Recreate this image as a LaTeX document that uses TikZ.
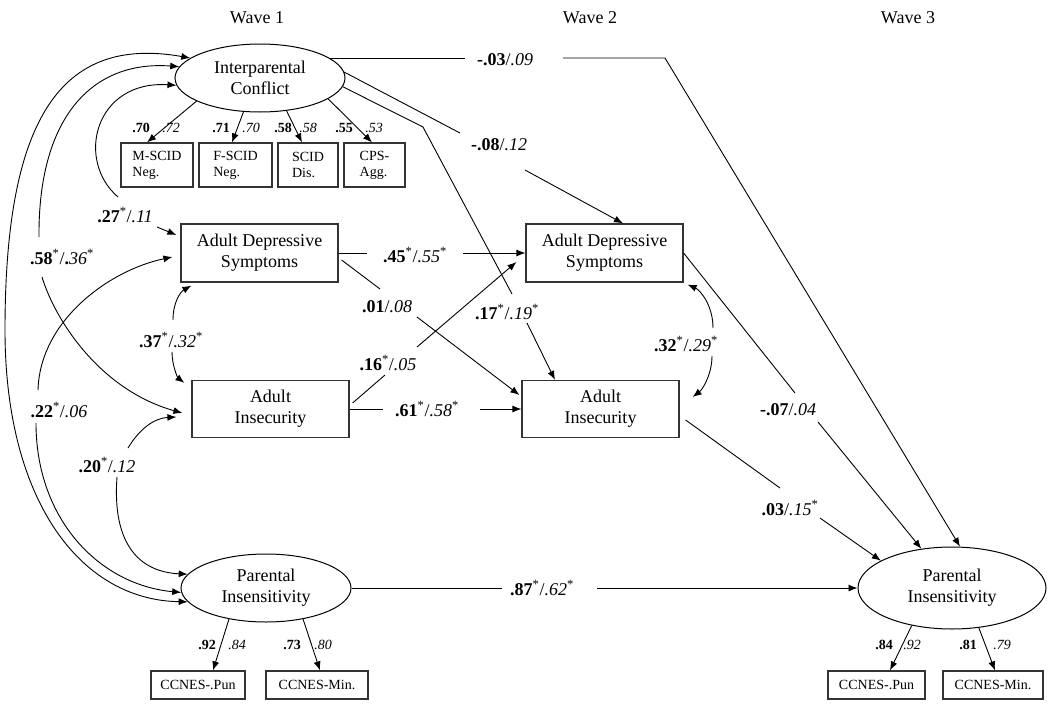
\documentclass[tikz,border=0pt]{standalone}
\usepackage{fontspec}
\setmainfont{Liberation Serif}
\usetikzlibrary{arrows.meta,shapes.geometric,calc}
\newcommand{\sig}{\textsuperscript{*}}
\newcommand{\pval}[2]{\textbf{#1}/\textit{#2}}
\begin{document}
\begin{tikzpicture}[x=1pt,y=-1pt,
  every node/.style={font=\fontsize{18}{21}\selectfont},
  ln/.style={line width=0.9pt},
  arr/.style={ln,-{Latex[length=9pt,width=7pt]}},
  dbl/.style={ln,{Latex[length=9pt,width=7pt]}-{Latex[length=9pt,width=7pt]}},
  box/.style={draw=black!80, line width=1.2pt, rectangle, align=center, inner sep=0pt, minimum width=157pt, minimum height=57pt},
  ell/.style={draw, ellipse, line width=1pt, align=center, inner sep=0pt},
  ind/.style={draw=black!80, line width=1.2pt, rectangle, align=left, inner sep=0pt, minimum height=44pt, font=\fontsize{14}{16}\selectfont},
  cc/.style={draw=black!80, line width=1.2pt, rectangle, inner sep=0pt, minimum height=28pt, font=\fontsize{14}{16}\selectfont},
  ld/.style={font=\fontsize{14}{16}\selectfont, inner sep=0pt},
  lab/.style={inner sep=0pt},
]
\useasboundingbox (0,0) rectangle (1050,707);

% wave headers
\node (wv1) at (257,18) {Wave 1};
\node (wv2) at (590,18) {Wave 2};
\node (wv3) at (908,18) {Wave 3};

% nodes
\node[ell, minimum width=170pt, minimum height=68pt] (ic) at (260,78) {Interparental\\Conflict};
\node[ind, minimum width=72pt] (m1) at (157,165) {M-SCID\\Neg.};
\node[ind, minimum width=73pt] (m2) at (235.5,165) {F-SCID\\Neg.};
\node[ind, minimum width=60pt] (m3) at (308,165) {SCID\\Dis.};
\node[ind, minimum width=61pt] (m4) at (374.5,165) {CPS-\\Agg.};

\node[box, minimum height=58pt] (ads1) at (259.5,253) {Adult Depressive\\Symptoms};
\node[box] (ai1) at (270.5,409) {Adult\\Insecurity};
\node[box, minimum height=58pt] (ads2) at (604.5,253) {Adult Depressive\\Symptoms};
\node[box] (ai2) at (600.5,409) {Adult\\Insecurity};

\node[ell, minimum width=170pt, minimum height=68pt] (pw1) at (266,588) {Parental\\Insensitivity};
\node[ell, minimum width=188pt, minimum height=82pt] (pw3) at (952,588) {Parental\\Insensitivity};

\node[cc, minimum width=94pt] (pun1) at (198,685) {CCNES-.Pun};
\node[cc, minimum width=102pt] (min1) at (317,685) {CCNES-Min.};
\node[cc, minimum width=97pt] (pun3) at (876.5,685) {CCNES-.Pun};
\node[cc, minimum width=100pt] (min3) at (993,685) {CCNES-Min.};

% measurement loadings
\draw[arr] (ic.200) -- ([xshift=-10pt]m1.north);
\draw[arr] (ic.244) -- ([xshift=-3.5pt]m2.north);
\draw[arr] (ic.309) -- ([xshift=-6pt]m3.north);
\draw[arr] (ic.343) -- ([xshift=-2.5pt]m4.north);
\node[ld] (l1a) at (141,128) {\textbf{.70}};
\node[ld] (l1b) at (171,128) {\textit{.72}};
\node[ld] (l2a) at (221,128) {\textbf{.71}};
\node[ld] (l2b) at (251,128) {\textit{.70}};
\node[ld] (l3a) at (283,128) {\textbf{.58}};
\node[ld] (l3b) at (308,128) {\textit{.58}};
\node[ld] (l4a) at (344,128) {\textbf{.55}};
\node[ld] (l4b) at (374,128) {\textit{.53}};

\draw[arr] (pw1.220) -- ([xshift=15pt]pun1.north);
\draw[arr] (pw1.320) -- ([xshift=3pt]min1.north);
\draw[arr] (pw3.223) -- ([xshift=13.5pt]pun3.north);
\draw[arr] (pw3.304) -- ([xshift=2pt]min3.north);
\node[ld] (l5a) at (207,645) {\textbf{.92}};
\node[ld] (l5b) at (237,645) {\textit{.84}};
\node[ld] (l6a) at (292,645) {\textbf{.73}};
\node[ld] (l6b) at (323,645) {\textit{.80}};
\node[ld] (l7a) at (884,645) {\textbf{.84}};
\node[ld] (l7b) at (912,645) {\textit{.92}};
\node[ld] (l8a) at (968,645) {\textbf{.81}};
\node[ld] (l8b) at (1002,645) {\textit{.79}};

% free ends / bends
\coordinate (a1) at (465,57);
\coordinate (a2) at (563,57);
\coordinate (a3) at (665,57);
\coordinate (b1) at (460,133);
\coordinate (b2) at (525,170);
\coordinate (k1) at (423,127);
\coordinate (k2) at (512,294);
\coordinate (k3) at (527,323);
\coordinate (p27a) at (118,197);
\coordinate (p27b) at (157,227);
\coordinate (p58a) at (39,237);
\coordinate (p58b) at (42,277);
\coordinate (pout) at (5,330);
\coordinate (p22a) at (38,390);
\coordinate (p22b) at (36,423);
\coordinate (p20a) at (128,448);
\coordinate (p20b) at (117,477);
\coordinate (p37a) at (173,320);
\coordinate (p37b) at (172,352);
\coordinate (p45a) at (367,253);
\coordinate (p45b) at (463,253);
\coordinate (p01a) at (380,289);
\coordinate (p01b) at (417,317);
\coordinate (p16a) at (385,375);
\coordinate (p16b) at (417,347);
\coordinate (p61a) at (383,409);
\coordinate (p61b) at (480,409);
\coordinate (p32a) at (713,328);
\coordinate (p32b) at (712,356);
\coordinate (p07a) at (795,393);
\coordinate (p07b) at (818,422);
\coordinate (p03a) at (780,488);
\coordinate (p03b) at (820,518);
\coordinate (p87a) at (502,588);
\coordinate (p87b) at (597,588);

% IC -> PI wave 3
\draw[ln] (ic.16) -- (ic.16 -| a1);
\draw[arr] (ic.16 -| a2) -- (ic.16 -| a3) -- (pw3.79);
\node[lab] (t03) at (505,60) {\pval{-.03}{.09}};

% IC -> ADS wave 2
\draw[ln] (ic.4) -- (b1);
\draw[arr] (b2) -- ([xshift=18.5pt]ads2.north);
\node[lab] (t08) at (499,145) {\pval{-.08}{.12}};

% IC -> AI wave 2
\draw[ln] (ic.-6) -- (k1) -- (k2);
\draw[arr] (k3) -- ([xshift=-45.5pt]ai2.north);
\node[lab] (t17) at (507,312) {\textbf{.17}\sig/\textit{.19}\sig};

% IC <-> ADS1
\draw[arr] (p27a) .. controls (75,160) and (95,80) .. (ic.185);
\draw[arr] (p27b) -- ([shift={(-4,-18)}]ads1.west);
\node[lab] (t27) at (125,215) {\textbf{.27}\sig/\textit{.11}};

% IC <-> AI1
\draw[arr] (p58a) .. controls (38,120) and (90,60) .. (ic.172);
\draw[arr] (p58b) .. controls (55,320) and (100,390) .. ([shift={(-9,4)}]ai1.west);
\node[lab] (t58) at (62,257) {\textbf{.58}\sig/\textbf{.}\textit{36}\sig};

% IC <-> PI1 (outermost)
\draw[dbl] (ic.164) .. controls (60,35) and (5,120) .. (pout) .. controls (5,500) and (80,600) .. (pw1.190);

% ADS1 <-> PI1
\draw[arr] (p22a) .. controls (40,320) and (110,270) .. ([shift={(-8,4)}]ads1.west);
\draw[arr] (p22b) .. controls (36,520) and (100,585) .. (pw1.183);
\node[lab] (t22) at (59,410) {\textbf{.22}\sig/\textit{.06}};

% AI1 <-> PI1
\draw[arr] (p20a) .. controls (140,428) and (155,418) .. ([shift={(-15,8)}]ai1.west);
\draw[arr] (p20b) .. controls (112,545) and (140,572) .. (pw1.170);
\node[lab] (t20) at (107,465) {\textbf{.20}\sig/\textit{.12}};

% ADS1 <-> AI1
\draw[arr] (p37a) .. controls (173,303) and (180,292) .. ([shift={(11,3)}]ads1.south west);
\draw[arr] (p37b) .. controls (172,366) and (178,378) .. ([shift={(-7,3)}]ai1.north west);
\node[lab] (t37) at (171,340) {\textbf{.37}\sig/\textit{.32}\sig};

% stability / cross-lagged
\draw[ln] (ads1.east) -- (p45a);
\draw[arr] (p45b) -- (ads2.west);
\node[lab] (t45) at (415,255) {\textbf{.45}\sig/\textit{.55}\sig};

\draw[ln] ([shift={(3,7)}]ads1.east) -- (p01a);
\draw[arr] (p01b) -- ([shift={(-2,-14)}]ai2.west);
\node[lab] (t01) at (387,307) {\pval{.01}{.08}};

\draw[ln] ([shift={(3,-6)}]ai1.east) -- (p16a);
\draw[arr] (p16b) -- ([shift={(-9,9)}]ads2.west);
\node[lab] (t16) at (388,363) {\textbf{.16}\sig/\textit{.05}};

\draw[ln] (ai1.east) -- (p61a);
\draw[arr] (p61b) -- (ai2.west);
\node[lab] (t61) at (427,409) {\textbf{.61}\sig/\textit{.58}\sig};

% ADS2 <-> AI2
\draw[arr] (p32a) .. controls (713,305) and (700,290) .. ([shift={(4,2)}]ads2.south east);
\draw[arr] (p32b) .. controls (712,375) and (702,390) .. ([shift={(13,-12)}]ai2.east);
\node[lab] (t32) at (686,344) {\textbf{.32}\sig/\textit{.29}\sig};

% to PI wave 3
\draw[ln] (ads2.east) -- (p07a);
\draw[arr] (p07b) -- (pw3.128);
\node[lab] (t07) at (788,410) {\pval{-.07}{.04}};

\draw[ln] ([shift={(6,11)}]ai2.east) -- (p03a);
\draw[arr] (p03b) -- (pw3.159);
\node[lab] (t033) at (790,508) {\textbf{.03}/\textit{.15}\sig};

\draw[ln] (pw1.east) -- (p87a);
\draw[arr] (p87b) -- (pw3.west);
\node[lab] (t87) at (542,588) {\textbf{.87}\sig/\textit{.62}\sig};
\end{tikzpicture}
\end{document}
